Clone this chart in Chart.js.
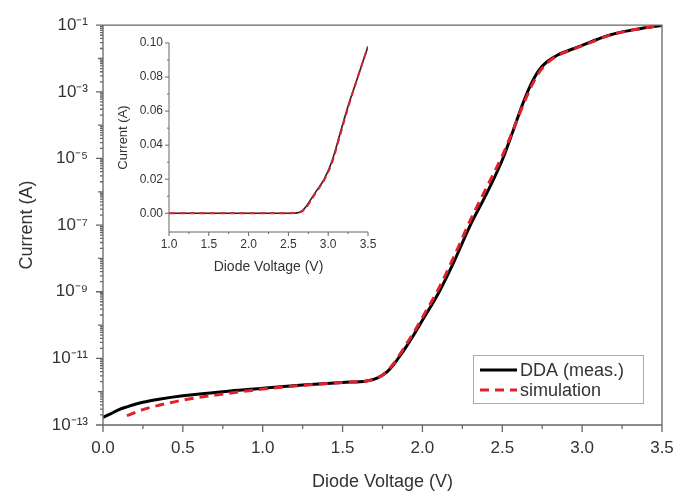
<!DOCTYPE html>
<html>
<head>
<meta charset="utf-8">
<script src="https://cdn.jsdelivr.net/npm/chart.js@4.4.1/dist/chart.umd.min.js"></script>
<style>
  body { margin: 0; background: #fff; }
  #wrap { position: relative; width: 700px; height: 500px; }
  #main { position: absolute; left: 0; top: 0; }
  #inset { position: absolute; left: 100px; top: 20px; }
</style>
</head>
<body>
<div id="wrap">
  <canvas id="main" width="700" height="500"></canvas>
  <canvas id="inset" width="290" height="270"></canvas>
</div>
<script>
// diode voltage (V) and current (A)
const voltage = [0, 0.05, 0.1, 0.15, 0.25, 0.35, 0.5, 0.75, 1.0, 1.25, 1.5, 1.65, 1.72, 1.78, 1.82, 1.86, 1.9, 1.95,
  2.0, 2.1, 2.2, 2.3, 2.4, 2.5, 2.58, 2.63, 2.68, 2.73, 2.78, 2.85, 2.95, 3.05, 3.15, 3.25, 3.35, 3.45, 3.5];
const currentMeas = [1.7e-13, 2.2e-13, 2.9e-13, 3.5e-13, 4.8e-13, 5.9e-13, 7.5e-13, 1.0e-12, 1.26e-12, 1.58e-12, 1.9e-12,
  2.1e-12, 2.6e-12, 4.0e-12, 6.5e-12, 1.2e-11, 2.3e-11, 5.5e-11,
  1.4e-10, 9.0e-10, 8.5e-9, 1.0e-7, 8.5e-7, 9.0e-6, 1.0e-4, 4.6e-4, 1.7e-3, 4.5e-3, 8.0e-3, 1.3e-2, 2.0e-2, 3.1e-2,
  4.7e-2, 6.3e-2, 7.7e-2, 9.1e-2, 9.8e-2];
const currentSim = [null, null, null, 1.9e-13, 2.9e-13, 3.9e-13, 5.6e-13, 8.5e-13, 1.2e-12, 1.55e-12, 1.9e-12,
  2.1e-12, 2.6e-12, 4.2e-12, 7.0e-12, 1.35e-11, 2.7e-11, 6.5e-11,
  1.7e-10, 1.2e-9, 1.2e-8, 1.4e-7, 1.3e-6, 1.2e-5, 1.0e-4, 4.0e-4, 1.4e-3, 3.8e-3, 7.2e-3, 1.25e-2, 1.95e-2, 3.0e-2,
  4.6e-2, 6.2e-2, 7.7e-2, 9.1e-2, 9.8e-2];

const xTicks = [0, 0.5, 1.0, 1.5, 2.0, 2.5, 3.0, 3.5];
const yTickExponents = [-13, -11, -9, -7, -5, -3, -1];
const insetXTicks = [1.0, 1.5, 2.0, 2.5, 3.0, 3.5];
const insetYTicks = [0, 0.02, 0.04, 0.06, 0.08, 0.10];

const FONT = "'Liberation Sans', Arial, sans-serif";
const TEXT = '#333';
const AXIS = '#666';

const SUP = { '-': '\u207B', '0': '\u2070', '1': '\u00B9', '2': '\u00B2', '3': '\u00B3', '4': '\u2074',
  '5': '\u2075', '6': '\u2076', '7': '\u2077', '8': '\u2078', '9': '\u2079' };
const pow10 = e => '10' + String(e).split('').map(c => SUP[c]).join('');

const points = arr => voltage.map((v, i) => ({ x: v, y: arr[i] }));

// tick marks + frame drawn from the chart's own scales
const axisMarks = {
  id: 'axisMarks',
  afterDraw(chart, args, o) {
    const { ctx, chartArea: a, scales } = chart;
    ctx.save();
    ctx.strokeStyle = o.color;
    ctx.lineWidth = o.width;
    ctx.beginPath();
    if (o.box) {
      ctx.rect(a.left, a.top, a.right - a.left, a.bottom - a.top);
    } else {
      ctx.moveTo(a.left, a.top);
      ctx.lineTo(a.left, a.bottom);
      ctx.lineTo(a.right, a.bottom);
    }
    o.xMarks.forEach(([v, len]) => {
      const p = scales.x.getPixelForValue(v);
      ctx.moveTo(p, a.bottom);
      ctx.lineTo(p, a.bottom + len);
    });
    o.yMarks.forEach(([v, len]) => {
      const p = scales.y.getPixelForValue(v);
      ctx.moveTo(a.left, p);
      ctx.lineTo(a.left - len, p);
    });
    ctx.stroke();
    ctx.restore();
  }
};

// boxed legend in the lower right of the main plot
const boxLegend = {
  id: 'boxLegend',
  afterDraw(chart, args, o) {
    const { ctx } = chart;
    ctx.save();
    ctx.fillStyle = '#fff';
    ctx.fillRect(o.x, o.y, o.w, o.h);
    ctx.strokeStyle = '#aaa';
    ctx.lineWidth = 1;
    ctx.strokeRect(o.x + 0.5, o.y + 0.5, o.w, o.h);
    ctx.font = o.font + 'px ' + FONT;
    ctx.textBaseline = 'middle';
    ctx.fillStyle = TEXT;
    o.items.forEach((idx, row) => {
      const ds = chart.data.datasets[idx];
      const yy = o.y + o.first + row * o.step;
      ctx.strokeStyle = ds.borderColor;
      ctx.lineWidth = ds.borderWidth;
      ctx.setLineDash(ds.borderDash || []);
      ctx.beginPath();
      ctx.moveTo(o.x + 7, yy);
      ctx.lineTo(o.x + 44, yy);
      ctx.stroke();
      ctx.setLineDash([]);
      ctx.fillText(ds.label, o.x + 47, yy + 1);
    });
    ctx.restore();
  }
};

const mainXMarks = [];
xTicks.forEach(v => mainXMarks.push([v, 7]));
xTicks.slice(0, -1).forEach(v => mainXMarks.push([v + 0.25, 4]));
const mainYMarks = [];
for (let e = -13; e <= -1; e++) {
  mainYMarks.push([Math.pow(10, e), yTickExponents.includes(e) ? 7 : 5]);
  if (e < -1) for (let m = 2; m <= 9; m++) mainYMarks.push([m * Math.pow(10, e), 3]);
}

new Chart(document.getElementById('main'), {
  type: 'line',
  data: {
    datasets: [
      { label: 'simulation', data: points(currentSim), borderColor: '#e0202c', borderWidth: 3,
        borderDash: [9, 6], pointRadius: 0, cubicInterpolationMode: 'monotone', order: 0 },
      { label: 'DDA (meas.)', data: points(currentMeas), borderColor: '#000', borderWidth: 3,
        pointRadius: 0, cubicInterpolationMode: 'monotone', order: 1 }
    ]
  },
  options: {
    responsive: false,
    animation: false,
    layout: { padding: { top: 14, right: 38, left: 0, bottom: 0 } },
    plugins: {
      legend: { display: false },
      tooltip: { enabled: false },
      axisMarks: { color: AXIS, width: 1.3, box: true, xMarks: mainXMarks, yMarks: mainYMarks },
      boxLegend: { x: 473, y: 355, w: 170, h: 48, font: 18, first: 15, step: 20, items: [1, 0] }
    },
    scales: {
      x: {
        type: 'linear', min: 0, max: 3.5,
        afterFit: s => { s.height = 75; },
        afterBuildTicks: s => { s.ticks = xTicks.map(v => ({ value: v })); },
        grid: { display: false, drawTicks: false },
        border: { display: false },
        ticks: { padding: 13, color: TEXT, font: { family: FONT, size: 17 }, callback: v => v.toFixed(1) },
        title: { display: true, text: 'Diode Voltage (V)', color: TEXT, font: { family: FONT, size: 18 },
          padding: { top: 0, bottom: 7 } }
      },
      y: {
        type: 'logarithmic', min: 1e-13, max: 1e-1,
        afterFit: s => { s.width = 103; },
        afterBuildTicks: s => { s.ticks = yTickExponents.map(e => ({ value: Math.pow(10, e) })); },
        grid: { display: false, drawTicks: false },
        border: { display: false },
        ticks: { padding: 15, color: TEXT, font: { family: FONT, size: 17 },
          callback: v => pow10(Math.round(Math.log10(v))) },
        title: { display: true, text: 'Current (A)', color: TEXT, font: { family: FONT, size: 18 },
          padding: { top: 16, bottom: 0 } }
      }
    }
  },
  plugins: [axisMarks, boxLegend]
});

const insetXMarks = [];
insetXTicks.forEach(v => insetXMarks.push([v, 4]));
insetXTicks.slice(0, -1).forEach(v => insetXMarks.push([v + 0.25, 2]));
const insetYMarks = [];
insetYTicks.forEach(v => insetYMarks.push([v, 4]));
insetYTicks.slice(0, -1).forEach(v => insetYMarks.push([v + 0.01, 2]));

new Chart(document.getElementById('inset'), {
  type: 'line',
  data: {
    datasets: [
      { label: 'simulation', data: points(currentSim), borderColor: '#e0202c', borderWidth: 2,
        borderDash: [6, 4], pointRadius: 0, cubicInterpolationMode: 'monotone', order: 0 },
      { label: 'DDA (meas.)', data: points(currentMeas), borderColor: '#222', borderWidth: 1.6,
        pointRadius: 0, cubicInterpolationMode: 'monotone', order: 1 }
    ]
  },
  options: {
    responsive: false,
    animation: false,
    layout: { padding: { top: 23, right: 22, left: 0, bottom: 0 } },
    plugins: {
      legend: { display: false },
      tooltip: { enabled: false },
      axisMarks: { color: AXIS, width: 1, box: false, xMarks: insetXMarks, yMarks: insetYMarks }
    },
    scales: {
      x: {
        type: 'linear', min: 1.0, max: 3.5,
        afterFit: s => { s.height = 58; },
        afterBuildTicks: s => { s.ticks = insetXTicks.map(v => ({ value: v })); },
        grid: { display: false, drawTicks: false },
        border: { display: false },
        ticks: { padding: 5, color: TEXT, font: { family: FONT, size: 12 }, callback: v => v.toFixed(1) },
        title: { display: true, text: 'Diode Voltage (V)', color: TEXT, font: { family: FONT, size: 14 },
          padding: { top: 0, bottom: 14 } }
      },
      y: {
        type: 'linear', min: -0.011, max: 0.10,
        afterFit: s => { s.width = 69; },
        afterBuildTicks: s => { s.ticks = insetYTicks.map(v => ({ value: v })); },
        grid: { display: false, drawTicks: false },
        border: { display: false },
        ticks: { padding: 6, color: TEXT, font: { family: FONT, size: 12 }, callback: v => v.toFixed(2) },
        title: { display: true, text: 'Current (A)', color: TEXT, font: { family: FONT, size: 13 },
          padding: { top: 16, bottom: 0 } }
      }
    }
  },
  plugins: [axisMarks]
});
</script>
</body>
</html>
